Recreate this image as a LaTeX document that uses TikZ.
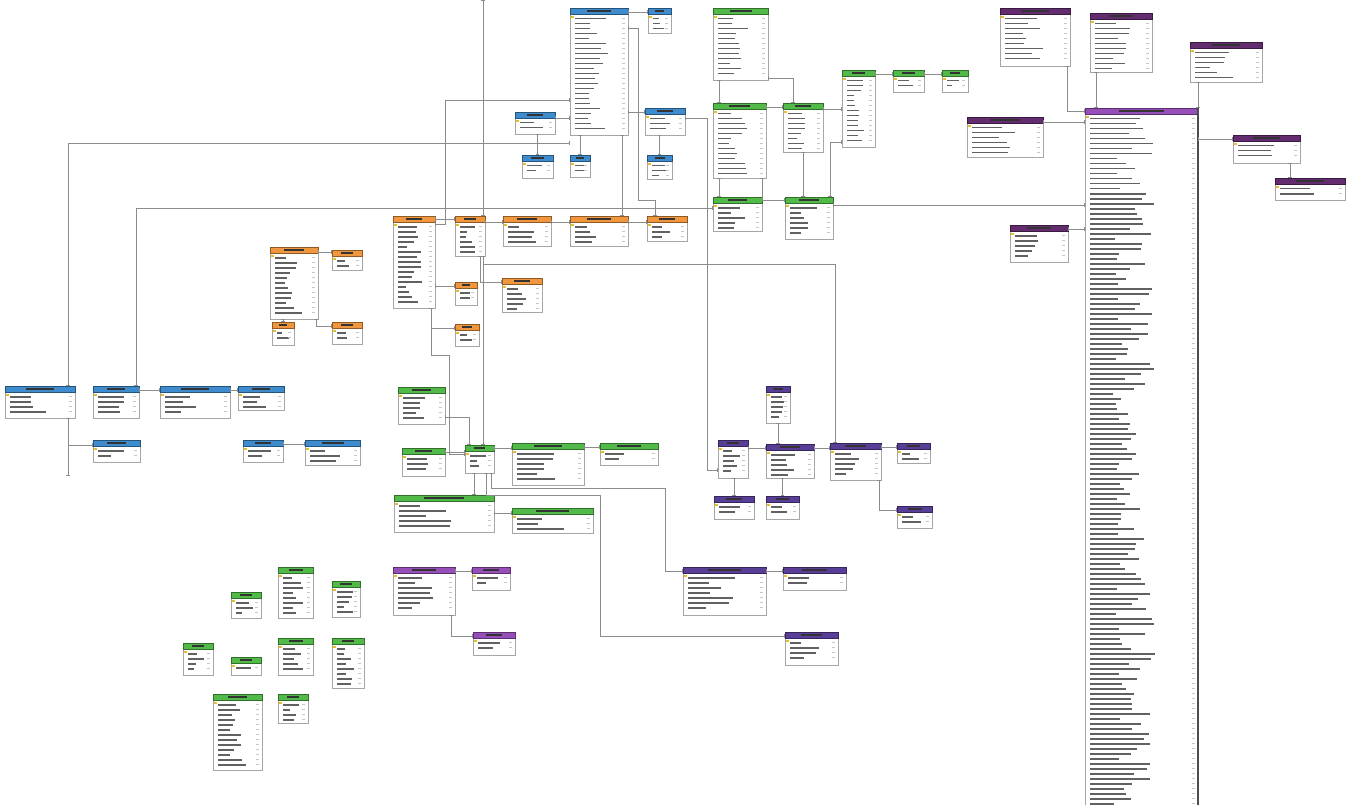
\documentclass[tikz,border=0pt]{standalone}
\usetikzlibrary{arrows.meta}
\definecolor{TabBlue}{RGB}{62,140,205}
\definecolor{TabOrange}{RGB}{240,150,62}
\definecolor{TabGreen}{RGB}{82,186,72}
\definecolor{TabIndigo}{RGB}{88,62,150}
\definecolor{TabPlum}{RGB}{98,44,110}
\definecolor{TabMagenta}{RGB}{150,78,185}
\definecolor{TabKey}{RGB}{232,190,40}
\newcommand{\dbtable}[6]{%
  \node[tabbody,minimum width=#4pt,minimum height=#5pt] (#1) at (#2,#3) {};
  \filldraw[fill=#6,draw=#6!60!black,line width=0.4pt] (#2,#3) rectangle (#2+#4,#3+6);
  \fill[black!80] (#2+0.3*#4,#3+2) rectangle (#2+0.7*#4,#3+4.2);
  \fill[TabKey] (#2+1.2,#3+8) rectangle ++(2.4,2);
  \pgfmathtruncatemacro{\nrows}{(#5-9)/5}%
  \foreach \r in {1,...,\nrows}{%
    \pgfmathsetmacro{\len}{(0.2+0.38*rnd)*#4}%
    \fill[black!62] (#2+5,#3+4.8+5*\r) rectangle ++(\len,1.7);
    \fill[black!22] (#2+#4-6,#3+4.8+5*\r) rectangle ++(3,1.5);
  }%
}

\begin{document}
\begin{tikzpicture}[
x=1pt,y=-1pt,
tabbody/.style={draw=black!35,fill=white,line width=0.4pt,anchor=north west,inner sep=0pt,outer sep=0pt},
rel/.style={draw=black!45,line width=0.5pt,{Bar[width=3.5pt,line width=0.7pt]}-{Bar[width=3.5pt,line width=0.7pt]}}
]
\useasboundingbox (0,0) rectangle (1356,805);
\clip (0,0) rectangle (1356,805);
\fill[white] (0,0) rectangle (1356,805);
\pgfmathsetseed{7}

\coordinate (top1) at (483,0);
\coordinate (k1) at (445,100);
\coordinate (k2) at (835,264);
\coordinate (k3) at (707,470);
\coordinate (k4) at (665,488);
\coordinate (k5) at (600,495);
\coordinate (k6) at (68,476);
\coordinate (k7) at (638,200);
\coordinate (k8) at (449,355);

\dbtable{b1}{570}{8}{58}{127}{TabBlue}
\dbtable{b2}{648}{8}{23}{25}{TabBlue}
\dbtable{b3}{645}{108}{40}{27}{TabBlue}
\dbtable{b4}{515}{112}{40}{22}{TabBlue}
\dbtable{b5}{522}{155}{31}{23}{TabBlue}
\dbtable{b6}{570}{155}{20}{22}{TabBlue}
\dbtable{b7}{647}{155}{25}{24}{TabBlue}
\dbtable{b8}{5}{386}{70}{32}{TabBlue}
\dbtable{b9}{93}{386}{46}{32}{TabBlue}
\dbtable{b10}{160}{386}{70}{32}{TabBlue}
\dbtable{b11}{238}{386}{46}{24}{TabBlue}
\dbtable{b12}{93}{440}{47}{22}{TabBlue}
\dbtable{b13}{243}{440}{40}{22}{TabBlue}
\dbtable{b14}{305}{440}{55}{25}{TabBlue}

\dbtable{o1}{393}{216}{42}{92}{TabOrange}
\dbtable{o2}{455}{216}{30}{40}{TabOrange}
\dbtable{o3}{503}{216}{48}{30}{TabOrange}
\dbtable{o4}{570}{216}{58}{30}{TabOrange}
\dbtable{o5}{647}{216}{40}{25}{TabOrange}
\dbtable{o6}{455}{282}{22}{23}{TabOrange}
\dbtable{o7}{502}{278}{40}{34}{TabOrange}
\dbtable{o8}{455}{324}{24}{22}{TabOrange}
\dbtable{o9}{270}{247}{48}{72}{TabOrange}
\dbtable{o10}{332}{250}{30}{20}{TabOrange}
\dbtable{o11}{272}{322}{22}{23}{TabOrange}
\dbtable{o12}{332}{322}{30}{22}{TabOrange}

\dbtable{g1}{713}{8}{55}{72}{TabGreen}
\dbtable{g2}{713}{103}{53}{75}{TabGreen}
\dbtable{g3}{783}{103}{40}{49}{TabGreen}
\dbtable{g4}{842}{70}{33}{77}{TabGreen}
\dbtable{g5}{893}{70}{31}{22}{TabGreen}
\dbtable{g6}{942}{70}{26}{22}{TabGreen}
\dbtable{g7}{713}{197}{49}{34}{TabGreen}
\dbtable{g8}{785}{197}{48}{42}{TabGreen}
\dbtable{g9}{398}{387}{47}{37}{TabGreen}
\dbtable{g10}{402}{448}{43}{28}{TabGreen}
\dbtable{g11}{465}{445}{29}{28}{TabGreen}
\dbtable{g12}{512}{443}{72}{42}{TabGreen}
\dbtable{g13}{600}{443}{58}{22}{TabGreen}
\dbtable{g14}{394}{495}{100}{37}{TabGreen}
\dbtable{g15}{512}{508}{81}{25}{TabGreen}
\dbtable{g16}{231}{592}{30}{26}{TabGreen}
\dbtable{g17}{278}{567}{35}{51}{TabGreen}
\dbtable{g18}{332}{581}{28}{36}{TabGreen}
\dbtable{g19}{183}{643}{30}{32}{TabGreen}
\dbtable{g20}{231}{657}{30}{18}{TabGreen}
\dbtable{g21}{278}{638}{35}{37}{TabGreen}
\dbtable{g22}{332}{638}{32}{50}{TabGreen}
\dbtable{g23}{213}{694}{49}{76}{TabGreen}
\dbtable{g24}{278}{694}{30}{29}{TabGreen}

\dbtable{p1}{766}{386}{24}{37}{TabIndigo}
\dbtable{p2}{718}{440}{30}{38}{TabIndigo}
\dbtable{p3}{766}{444}{48}{34}{TabIndigo}
\dbtable{p4}{830}{443}{51}{37}{TabIndigo}
\dbtable{p5}{897}{443}{33}{20}{TabIndigo}
\dbtable{p6}{714}{496}{40}{23}{TabIndigo}
\dbtable{p7}{766}{496}{33}{23}{TabIndigo}
\dbtable{p8}{897}{506}{35}{22}{TabIndigo}
\dbtable{p9}{393}{567}{62}{48}{TabMagenta}
\dbtable{p10}{472}{567}{38}{23}{TabMagenta}
\dbtable{p11}{473}{632}{42}{23}{TabMagenta}
\dbtable{p12}{683}{567}{83}{48}{TabIndigo}
\dbtable{p13}{783}{567}{63}{23}{TabIndigo}
\dbtable{p14}{785}{632}{53}{33}{TabIndigo}

\dbtable{m1}{1000}{8}{70}{58}{TabPlum}
\dbtable{m2}{1090}{13}{62}{59}{TabPlum}
\dbtable{m3}{1190}{42}{72}{40}{TabPlum}
\dbtable{m4}{967}{117}{76}{40}{TabPlum}
\dbtable{m5}{1085}{108}{113}{712}{TabMagenta}
\dbtable{m6}{1233}{135}{67}{28}{TabPlum}
\dbtable{m7}{1275}{178}{70}{22}{TabPlum}
\dbtable{m8}{1010}{225}{58}{37}{TabPlum}
\draw[line width=1.2pt,black!70] (m5.north east) -- (m5.south east);

\draw[rel] ([yshift=-4]b1.north east) -- ([yshift=-4]b2.north west);
\draw[rel] ([yshift=-104]b1.north east) -- ([yshift=-4]b3.north west);
\draw[rel] ([yshift=-6]b4.north east) -- ([yshift=-110]b1.north west);
\draw[rel] (b5.north) -- (b5.north |- b4.south);
\draw[rel] (b6.north) -- (b6.north |- b1.south);
\draw[rel] (b7.north) -- (b7.north |- b3.south);
\draw[rel] ([xshift=-6]b1.south east) -- ([xshift=-6]b1.south east |- o4.north);
\draw[rel] ([yshift=-20]b1.north east) -| (k7) -| ([xshift=8]o5.north west);
\draw[rel] ([yshift=-10]b3.north east) -| (k3) -- (k3 -| p2.west);
\draw[rel] ([yshift=-135]b1.north west) -| ([xshift=-7]b8.north east);
\draw[rel] ([yshift=-8]o1.north east) -| (k1) -- (k1 -| b1.west);
\draw[rel] ([yshift=-11]g7.north west) -| ([xshift=-3]b9.north east);
\draw[rel] ([yshift=-8]g8.north east) -- ([yshift=-8]g8.north east -| m5.west);
\draw[rel] (top1) -- ([xshift=-2]o2.north east);
\draw[rel] ([xshift=-2]o2.south east) |- (k2) -- (k2 |- p4.north);
\draw[rel] ([xshift=-2]o2.south east) -- ([xshift=-2]o2.south east |- g11.north);

\draw[rel] ([yshift=-5]b12.north west) -| ([xshift=-7]b8.south east);
\draw[rel] ([xshift=-7]b8.south east) -- (k6);
\draw[rel] ([yshift=-4]b9.north east) -- ([yshift=-4]b10.north west);
\draw[rel] ([yshift=-4]b10.north east) -- ([yshift=-4]b11.north west);
\draw[rel] ([yshift=-4]b13.north east) -- ([yshift=-4]b14.north west);

\draw[rel] ([yshift=-3]o1.north east) -- ([yshift=-3]o2.north west);
\draw[rel] ([yshift=-6]o2.north east) -- ([yshift=-6]o3.north west);
\draw[rel] ([yshift=-6]o3.north east) -- ([yshift=-6]o4.north west);
\draw[rel] ([yshift=-6]o4.north east) -- ([yshift=-6]o5.north west);
\draw[rel] ([yshift=-70]o1.north east) -- ([yshift=-4]o6.north west);
\draw[rel] ([xshift=-5]o2.south east) |- ([yshift=-4]o7.north west);
\draw[rel] ([yshift=-4]o8.north west) -| ([xshift=-4]o1.south east);
\draw[rel] ([xshift=-4]o1.south east) |- (k8) |- ([yshift=-9]g11.north west);
\draw[rel] ([yshift=-5]o9.north east) -- ([yshift=-2]o10.north west);
\draw[rel] (o11.north) -- (o11.north |- o9.south);
\draw[rel] ([xshift=-2]o9.south east) |- ([yshift=-4]o12.north west);

\draw[rel] ([xshift=6]g1.south west) -- ([xshift=6]g2.north west);
\draw[rel] ([yshift=-70]g1.north east) -| ([xshift=-30]g3.north east);
\draw[rel] ([yshift=-4]g2.north east) -- ([yshift=-4]g3.north west);
\draw[rel] ([yshift=-6]g3.north east) -- ([yshift=-39]g4.north west);
\draw[rel] ([yshift=-4]g4.north east) -- ([yshift=-4]g5.north west);
\draw[rel] ([yshift=-4]g5.north east) -- ([yshift=-4]g6.north west);
\draw[rel] ([xshift=6]g2.south west) -- ([xshift=6]g7.north west);
\draw[rel] ([xshift=-4]g2.south east) |- ([yshift=-3]g8.north west);
\draw[rel] (g3.south) -- (g3.south |- g8.north);
\draw[rel] ([yshift=-72]g4.north west) -| ([xshift=-3]g8.north east);

\draw[rel] ([yshift=-30]g9.north east) -| ([xshift=4]g11.north west);
\draw[rel] ([yshift=-4]g10.north east) -- ([yshift=-7]g11.north west);
\draw[rel] ([yshift=-3]g11.north east) -- ([yshift=-5]g12.north west);
\draw[rel] ([yshift=-4]g12.north east) -- ([yshift=-4]g13.north west);
\draw[rel] ([xshift=-20]g11.south east) -- ([xshift=-20]g11.south east |- g14.north);
\draw[rel] ([yshift=-18]g14.north east) -- ([yshift=-5]g15.north west);
\draw[rel] ([xshift=-3]g11.south east) |- (k4) |- ([yshift=-4]p12.north west);
\draw[rel] ([xshift=-8]g11.south east) |- (k5) |- ([yshift=-4]p14.north west);

\draw[rel] (p1.south) -- (p1.south |- p3.north);
\draw[rel] ([yshift=-8]p2.north east) -- ([yshift=-4]p3.north west);
\draw[rel] ([yshift=-4]p3.north east) -- ([yshift=-5]p4.north west);
\draw[rel] ([yshift=-4]p4.north east) -- ([yshift=-4]p5.north west);
\draw[rel] (p7.north) -- (p7.north |- p3.south);
\draw[rel] (p6.north) -- (p6.north |- p2.south);
\draw[rel] ([xshift=-2]p4.south east) |- ([yshift=-4]p8.north west);
\draw[rel] ([yshift=-4]p9.north east) -- ([yshift=-4]p10.north west);
\draw[rel] ([xshift=-4]p9.south east) |- ([yshift=-4]p11.north west);
\draw[rel] ([yshift=-4]p12.north east) -- ([yshift=-4]p13.north west);

\draw[rel] ([xshift=-3]m1.south east) |- ([yshift=-3]m5.north west);
\draw[rel] ([xshift=6]m2.south west) -- ([xshift=6]m2.south west |- m5.north);
\draw[rel] ([xshift=8]m3.south west) -- ([xshift=8]m3.south west |- m5.north);
\draw[rel] ([yshift=-5]m4.north east) -- ([yshift=-5]m4.north east -| m5.west);
\draw[rel] ([yshift=-4]m6.north west) -- ([yshift=-4]m6.north west -| m5.east);
\draw[rel] ([xshift=-10]m6.south east) -- ([xshift=-10]m6.south east |- m7.north);
\draw[rel] ([yshift=-4]m8.north east) -- ([yshift=-4]m8.north east -| m5.west);
\end{tikzpicture}
\end{document}
